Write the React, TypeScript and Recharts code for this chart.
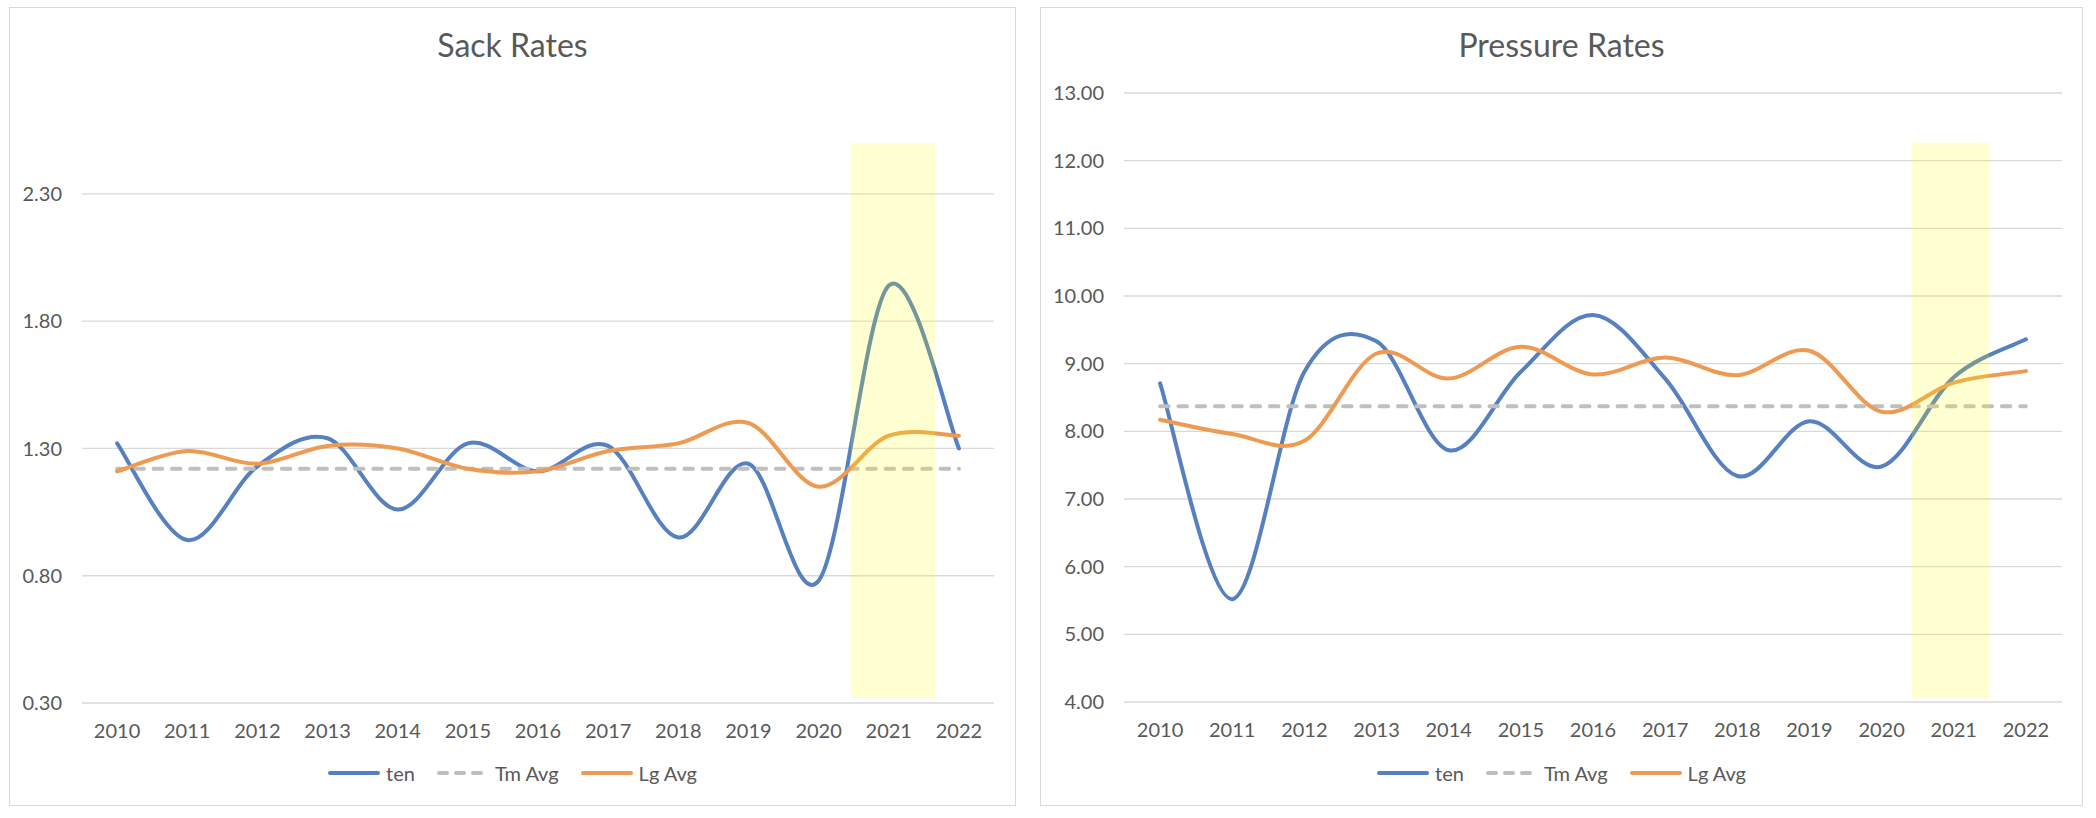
import React from 'react';
import { LineChart, Line, XAxis, YAxis, CartesianGrid, ReferenceArea, Legend } from 'recharts';

const years = ['2010', '2011', '2012', '2013', '2014', '2015', '2016', '2017', '2018', '2019', '2020', '2021', '2022'];

const sackTen = [1.32, 0.94, 1.23, 1.34, 1.06, 1.32, 1.21, 1.31, 0.95, 1.24, 0.78, 1.94, 1.30];
const sackTmAvg = [1.22, 1.22, 1.22, 1.22, 1.22, 1.22, 1.22, 1.22, 1.22, 1.22, 1.22, 1.22, 1.22];
const sackLgAvg = [1.21, 1.29, 1.24, 1.31, 1.30, 1.22, 1.21, 1.29, 1.32, 1.40, 1.15, 1.35, 1.35];

const pressTen = [8.71, 5.52, 8.88, 9.33, 7.72, 8.88, 9.72, 8.78, 7.34, 8.15, 7.48, 8.80, 9.36];
const pressTmAvg = [8.37, 8.37, 8.37, 8.37, 8.37, 8.37, 8.37, 8.37, 8.37, 8.37, 8.37, 8.37, 8.37];
const pressLgAvg = [8.17, 7.96, 7.86, 9.15, 8.78, 9.25, 8.84, 9.09, 8.83, 9.19, 8.29, 8.72, 8.89];

const sackTicks = [0.3, 0.8, 1.3, 1.8, 2.3];
const pressTicks = [4, 5, 6, 7, 8, 9, 10, 11, 12, 13];

const legendOrder = ['ten', 'Tm Avg', 'Lg Avg'];

const FONT = 'Lato, "Open Sans", sans-serif';
const TEXT = '#595959';
const BLUE = '#5680BF';
const ORANGE = '#EE9A52';
const GREY = '#BFBFBF';

function excelSmooth(context: any) {
  let pts: number[][] = [];
  return {
    areaStart() {},
    areaEnd() {},
    lineStart() {
      pts = [];
    },
    point(x: number, y: number) {
      pts.push([+x, +y]);
    },
    lineEnd() {
      const n = pts.length;
      if (!n) return;
      context.moveTo(pts[0][0], pts[0][1]);
      const t = 1 / 6;
      for (let i = 0; i < n - 1; i++) {
        const p0 = pts[Math.max(0, i - 1)];
        const p1 = pts[i];
        const p2 = pts[i + 1];
        const p3 = pts[Math.min(n - 1, i + 2)];
        context.bezierCurveTo(
          p1[0] + (p2[0] - p0[0]) * t,
          p1[1] + (p2[1] - p0[1]) * t,
          p2[0] - (p3[0] - p1[0]) * t,
          p2[1] - (p3[1] - p1[1]) * t,
          p2[0],
          p2[1]
        );
      }
    },
  };
}

const buildRows = (ten: number[], tm: number[], lg: number[]) =>
  years.map((y, i) => ({ idx: i, year: y, ten: ten[i], tm: tm[i], lg: lg[i] }));

const sackRows = buildRows(sackTen, sackTmAvg, sackLgAvg);
const pressRows = buildRows(pressTen, pressTmAvg, pressLgAvg);

const LegendContent = (props: any) => {
  const payload = [...(props.payload || [])].sort(
    (a: any, b: any) => legendOrder.indexOf(a.value) - legendOrder.indexOf(b.value)
  );
  return (
    <div style={{ display: 'flex', justifyContent: 'center', alignItems: 'center', fontFamily: FONT, fontSize: 20, color: TEXT, height: 24 }}>
      {payload.map((p: any, i: number) => {
        const dash = p.value === 'Tm Avg';
        return (
          <div key={i} style={{ display: 'flex', alignItems: 'center', marginLeft: i ? 22 : 0 }}>
            <svg width={52} height={10} style={{ display: 'block' }}>
              <line x1={2} y1={5} x2={50} y2={5} stroke={p.color} strokeWidth={4} strokeLinecap="round" strokeDasharray={dash ? '8 9' : undefined} />
            </svg>
            <span style={{ marginLeft: 6, lineHeight: '24px' }}>{p.value}</span>
          </div>
        );
      })}
    </div>
  );
};

type PanelProps = {
  title: string;
  rows: any[];
  left: number;
  top: number;
  width: number;
  height: number;
  margin: { top: number; right: number; bottom: number; left: number };
  domain: [number, number];
  ticks: number[];
  hl: { x1: number; x2: number; y1: number; y2: number };
  legendTop: number;
};

const Panel = (p: PanelProps) => (
  <>
    <div
      style={{
        position: 'absolute',
        left: p.left,
        top: p.top,
        width: p.width,
        height: p.height,
        boxSizing: 'border-box',
        border: '1.5px solid #D9D9D9',
        background: '#fff',
      }}
    />
    <div
      style={{
        position: 'absolute',
        left: p.left,
        top: 29,
        width: p.width,
        textAlign: 'center',
        fontFamily: FONT,
        fontSize: 32,
        lineHeight: '32px',
        color: TEXT,
      }}
    >
      {p.title}
    </div>
    <div style={{ position: 'absolute', left: p.left, top: p.top }}>
      <LineChart width={p.width} height={p.height} data={p.rows} margin={p.margin}>
        <CartesianGrid vertical={false} horizontalValues={p.ticks} stroke="#D9D9D9" strokeWidth={1.33} />
        <XAxis
          dataKey="idx"
          type="number"
          domain={[-0.5, 12.5]}
          ticks={years.map((_, i) => i)}
          tickFormatter={(v: number) => years[v]}
          axisLine={false}
          tickLine={false}
          tickSize={0}
          tickMargin={21}
          height={30}
          interval={0}
          tick={{ fill: TEXT, fontSize: 20, fontFamily: FONT }}
        />
        <YAxis
          type="number"
          domain={p.domain}
          ticks={p.ticks}
          tickFormatter={(v: number) => v.toFixed(2)}
          axisLine={false}
          tickLine={false}
          tickSize={0}
          tickMargin={20}
          width={60}
          interval={0}
          allowDataOverflow
          tick={{ fill: TEXT, fontSize: 20, fontFamily: FONT }}
        />
        <Line dataKey="ten" name="ten" type={excelSmooth as any} stroke={BLUE} strokeWidth={4} dot={false} activeDot={false} isAnimationActive={false} strokeLinecap="round" />
        <Line dataKey="tm" name="Tm Avg" type="linear" stroke={GREY} strokeWidth={4} strokeDasharray="8.5 9.8" strokeLinecap="round" dot={false} activeDot={false} isAnimationActive={false} />
        <Line dataKey="lg" name="Lg Avg" type={excelSmooth as any} stroke={ORANGE} strokeWidth={4} dot={false} activeDot={false} isAnimationActive={false} strokeLinecap="round" />
        <ReferenceArea x1={p.hl.x1} x2={p.hl.x2} y1={p.hl.y1} y2={p.hl.y2} fill="#FFFF00" fillOpacity={0.18} stroke="none" ifOverflow="visible" {...({ zIndex: 1000 } as any)} />
        <Legend
          layout="horizontal"
          verticalAlign="middle"
          align="center"
          itemSorter={null as any}
          content={<LegendContent />}
          wrapperStyle={{ top: p.legendTop, left: 0, width: p.width }}
        />
      </LineChart>
    </div>
  </>
);

export default function App() {
  return (
    <div style={{ position: 'absolute', left: 0, top: 0, width: 2096, height: 818, background: '#fff' }}>
      <Panel
        title="Sack Rates"
        rows={sackRows}
        left={9}
        top={7}
        width={1007}
        height={799}
        margin={{ top: 136, right: 22, bottom: 73, left: 13 }}
        domain={[0.3, 2.5]}
        ticks={sackTicks}
        hl={{ x1: 10.46, x2: 11.66, y1: 0.32, y2: 2.5 }}
        legendTop={754}
      />
      <Panel
        title="Pressure Rates"
        rows={pressRows}
        left={1040}
        top={7}
        width={1043}
        height={799}
        margin={{ top: 86, right: 21, bottom: 74, left: 24 }}
        domain={[4, 13]}
        ticks={pressTicks}
        hl={{ x1: 10.42, x2: 11.49, y1: 4.06, y2: 12.27 }}
        legendTop={754}
      />
    </div>
  );
}
